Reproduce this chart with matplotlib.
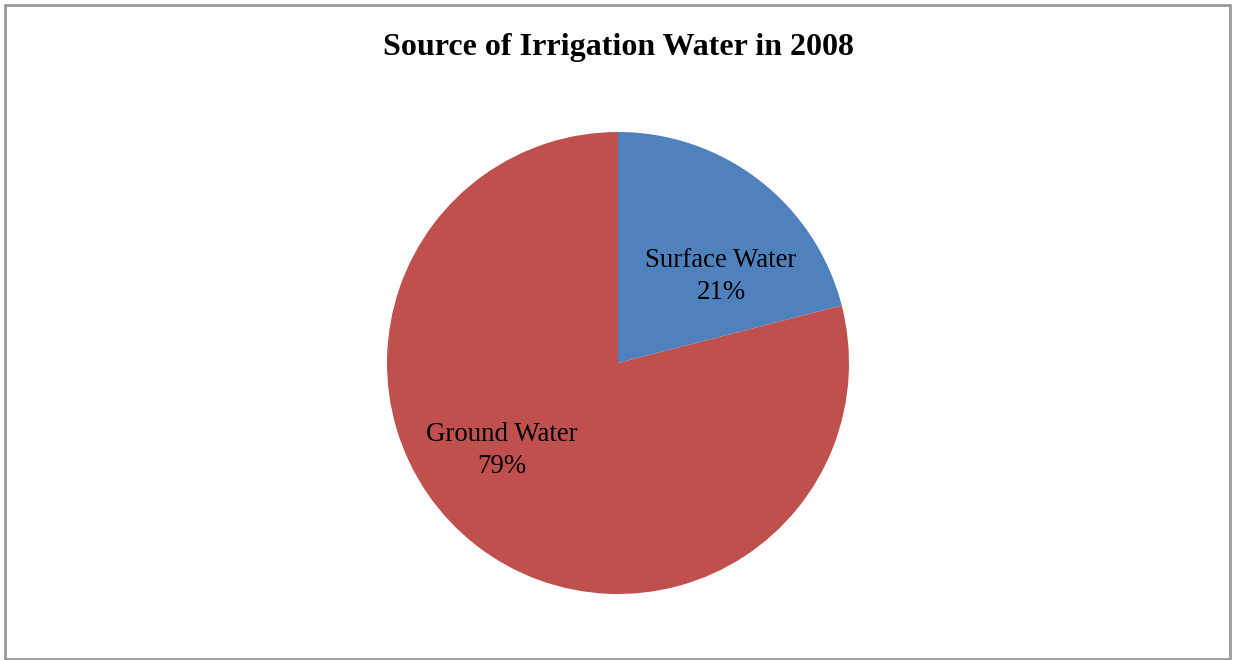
import matplotlib.pyplot as plt
from matplotlib.patches import Rectangle

# irrigation water sources, 2008
sources = ["Surface Water", "Ground Water"]
shares = [21, 79]
colors = ["#4F81BD", "#C0504D"]
# label centres in pie-radius units
label_xy = [(0.446, 0.374), (-0.502, -0.380)]

plt.rcParams['font.family'] = ['Liberation Serif', 'DejaVu Serif']

fig = plt.figure(figsize=(12.33, 6.6), dpi=100)
fig.patch.set_facecolor("white")

# chart frame
fig.patches.append(Rectangle((4.5 / 1233, 1.5 / 660), 1225.5 / 1233, 653.5 / 660,
                             transform=fig.transFigure, fill=False,
                             edgecolor="#9a9a9a", linewidth=2))

fig.text(618 / 1233, 1 - 47 / 660, "Source of Irrigation Water in 2008",
         ha="center", va="center", fontsize=23, fontweight="bold")

ax = fig.add_axes([387 / 1233, 66 / 660, 462 / 1233, 462 / 660])
ax.pie(shares, colors=colors, startangle=90, counterclock=False, radius=1,
       wedgeprops=dict(linewidth=0))
ax.set_xlim(-1, 1)
ax.set_ylim(-1, 1)
ax.set_aspect("equal")
ax.axis("off")

for name, val, (x, y) in zip(sources, shares, label_xy):
    ax.text(x, y, "%s\n%d%%" % (name, val), ha="center", va="center",
            fontsize=19.4, linespacing=1.38)

fig.savefig("out.png", dpi=100)
